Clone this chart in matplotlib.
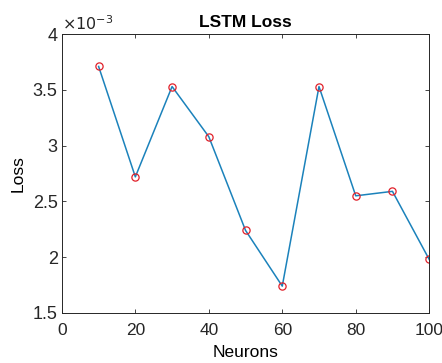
import matplotlib
matplotlib.use('Agg')
import matplotlib.pyplot as plt

plt.rcParams['font.family'] = ['Liberation Sans', 'DejaVu Sans']

neurons = [10, 20, 30, 40, 50, 60, 70, 80, 90, 100]
loss = [3.71e-3, 2.72e-3, 3.53e-3, 3.08e-3, 2.24e-3, 1.74e-3, 3.53e-3, 2.55e-3, 2.59e-3, 1.98e-3]

fig = plt.figure(figsize=(4.42, 3.63), dpi=100)
ax = fig.add_axes([0.140, 0.138, 0.831, 0.768])

ax.plot(neurons, loss, '-', color='#1b82bb', linewidth=1.1)
ax.plot(neurons, loss, 'o', markerfacecolor='none', markeredgecolor='#e0202a',
        markersize=5.2, markeredgewidth=0.9)

ax.set_xlim(0, 100)
ax.set_ylim(1.5e-3, 4e-3)
ax.set_xticks([0, 20, 40, 60, 80, 100])
ax.set_yticks([1.5e-3, 2e-3, 2.5e-3, 3e-3, 3.5e-3, 4e-3])
ax.set_yticklabels(['1.5', '2', '2.5', '3', '3.5', '4'])
ax.tick_params(direction='in', length=3, labelsize=13, colors='#262626', width=0.6,
               top=True, right=True)
ax.tick_params(axis='x', pad=7, labelsize=12.5)
ax.tick_params(axis='y', pad=3)
for s in ax.spines.values():
    s.set_linewidth(0.7)
    s.set_color('#262626')

ax.text(0.0, 1.005, r'$\times10^{-3}$', transform=ax.transAxes, fontsize=11.5,
        color='#262626', ha='left', va='bottom')
ax.set_title('LSTM Loss', fontsize=12.5, fontweight='bold', pad=5)
ax.set_xlabel('Neurons', fontsize=12.5, labelpad=5)
ax.set_ylabel('Loss', fontsize=12.5, labelpad=5)

fig.savefig('out.png', dpi=100)
